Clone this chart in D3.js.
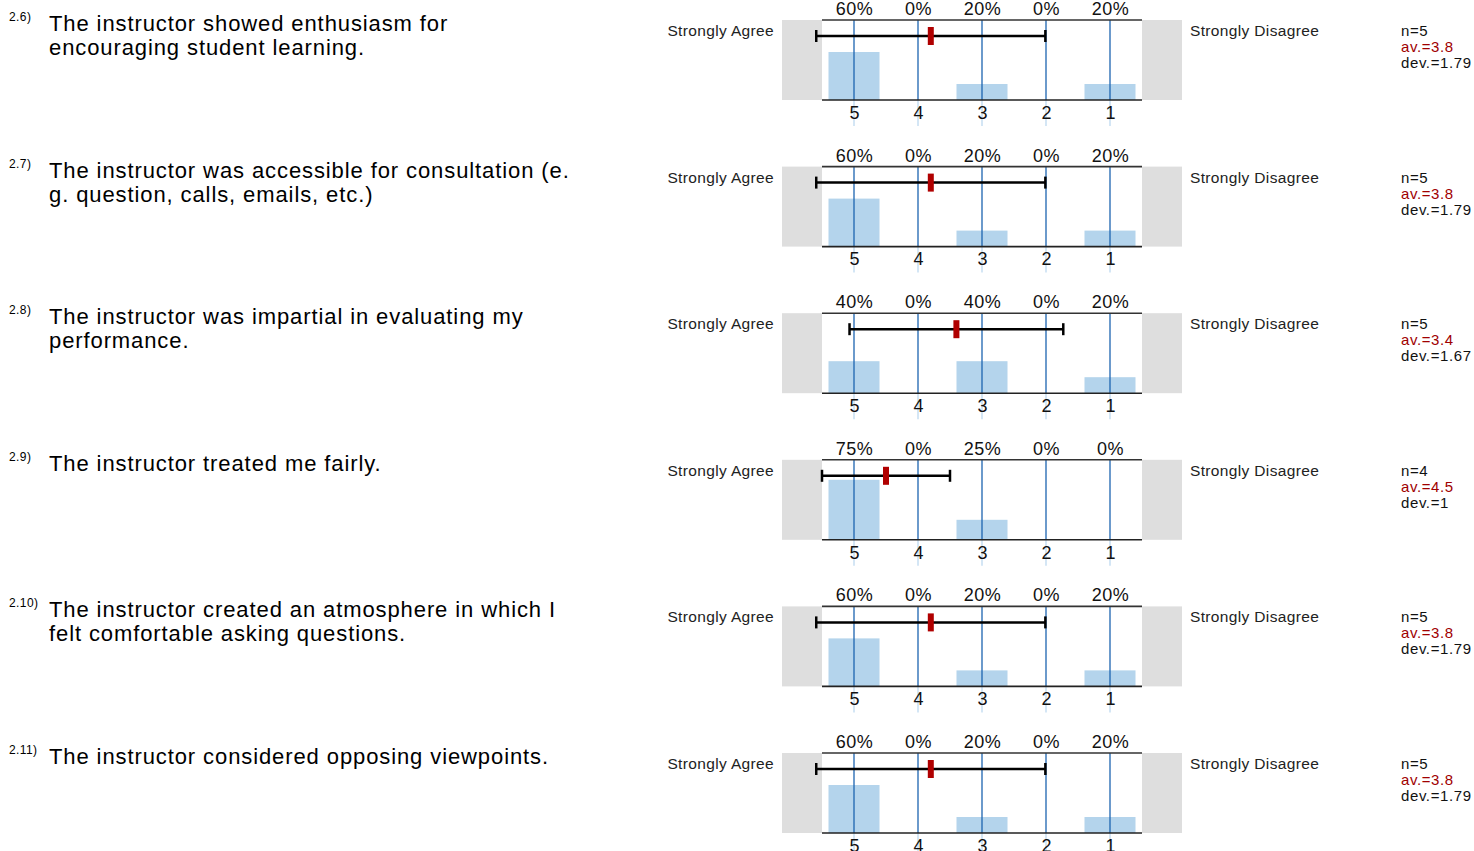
<!DOCTYPE html>
<html>
<head>
<meta charset="utf-8">
<script src="https://cdn.jsdelivr.net/npm/d3@7"></script>
<style>
  body { margin: 0; background: #fff; }
  svg text { font-family: "Liberation Sans", Arial, sans-serif; }
</style>
</head>
<body>
<div id="chart"></div>
<script>
// Survey data, one entry per question
var qNumbers = ["2.6)", "2.7)", "2.8)", "2.9)", "2.10)", "2.11)"];
var qTexts = [
    ["The instructor showed enthusiasm for", "encouraging student learning."],
    ["The instructor was accessible for consultation (e.", "g. question, calls, emails, etc.)"],
    ["The instructor was impartial in evaluating my", "performance."],
    ["The instructor treated me fairly."],
    ["The instructor created an atmosphere in which I", "felt comfortable asking questions."],
    ["The instructor considered opposing viewpoints."]
];
var scaleValues = [5, 4, 3, 2, 1];
var percents = [
    [60, 0, 20, 0, 20],
    [60, 0, 20, 0, 20],
    [40, 0, 40, 0, 20],
    [75, 0, 25, 0, 0],
    [60, 0, 20, 0, 20],
    [60, 0, 20, 0, 20]
];
var nValues = [5, 5, 5, 4, 5, 5];
var means = [3.8, 3.8, 3.4, 4.5, 3.8, 3.8];
var devs = [1.79, 1.79, 1.67, 1, 1.79, 1.79];

// Layout
var width = 1474;
var height = 851;
var rowStep = 146.6;
var plotTop = 20;
var plotH = 80;

var svg = d3.select("#chart")
    .append("svg")
    .attr("width", width)
    .attr("height", height);

// Scales shared by every row
var xScale = d3.scaleLinear().domain([5, 1]).range([854, 1110]);
var yScale = d3.scaleLinear().domain([0, 100]).range([plotH, 0]);
var barW = 51;

qNumbers.forEach(function(num, i) {
    var g = svg.append("g")
        .attr("transform", "translate(0," + (i * rowStep) + ")");

    // question number + text
    g.append("text")
        .attr("x", 9)
        .attr("y", 21)
        .attr("font-size", 12)
        .attr("letter-spacing", 0.4)
        .text(num);
    g.selectAll(".qline")
        .data(qTexts[i])
        .enter()
        .append("text")
        .attr("class", "qline")
        .attr("x", 49)
        .attr("y", function(d, j) { return 31 + j * 24; })
        .attr("font-size", 22)
        .attr("letter-spacing", 0.9)
        .text(function(d) { return d; });

    // side labels
    g.append("text")
        .attr("x", 774)
        .attr("y", 36)
        .attr("text-anchor", "end")
        .attr("font-size", 15.5)
        .attr("letter-spacing", 0.35)
        .attr("fill", "#222")
        .text("Strongly Agree");
    g.append("text")
        .attr("x", 1190)
        .attr("y", 36)
        .attr("font-size", 15.5)
        .attr("letter-spacing", 0.35)
        .attr("fill", "#222")
        .text("Strongly Disagree");

    // gray end boxes
    g.append("rect")
        .attr("x", 782).attr("y", plotTop)
        .attr("width", 40).attr("height", plotH)
        .attr("fill", "#dedede");
    g.append("rect")
        .attr("x", 1142).attr("y", plotTop)
        .attr("width", 40).attr("height", plotH)
        .attr("fill", "#dedede");

    var plot = g.append("g").attr("transform", "translate(0," + plotTop + ")");

    // bars
    plot.selectAll(".bar")
        .data(percents[i])
        .enter()
        .append("rect")
        .attr("class", "bar")
        .attr("x", function(d, j) { return xScale(scaleValues[j]) - barW / 2; })
        .attr("y", function(d) { return yScale(d); })
        .attr("width", barW)
        .attr("height", function(d) { return plotH - yScale(d); })
        .attr("fill", "#b4d4ec");

    // faint tick marks below the axis
    plot.selectAll(".faint")
        .data(scaleValues)
        .enter()
        .append("line")
        .attr("x1", function(d) { return xScale(d); })
        .attr("x2", function(d) { return xScale(d); })
        .attr("y1", plotH)
        .attr("y2", plotH + 26)
        .attr("stroke", "#c6def2")
        .attr("stroke-width", 1.5);

    // blue grid lines
    plot.selectAll(".grid")
        .data(scaleValues)
        .enter()
        .append("line")
        .attr("x1", function(d) { return xScale(d); })
        .attr("x2", function(d) { return xScale(d); })
        .attr("y1", 0)
        .attr("y2", plotH)
        .attr("stroke", "#1d64b0")
        .attr("stroke-width", 1.3);

    // top and bottom frame lines
    plot.append("line")
        .attr("x1", 822).attr("x2", 1142)
        .attr("y1", 0).attr("y2", 0)
        .attr("stroke", "#333").attr("stroke-width", 1.6);
    plot.append("line")
        .attr("x1", 822).attr("x2", 1142)
        .attr("y1", plotH).attr("y2", plotH)
        .attr("stroke", "#222").attr("stroke-width", 1.6);

    // top axis: percentages
    var pct = percents[i];
    var topAxis = d3.axisTop(xScale)
        .tickValues(scaleValues)
        .tickSize(0)
        .tickPadding(5)
        .tickFormat(function(d) { return pct[scaleValues.indexOf(d)] + "%"; });
    var ta = plot.append("g").call(topAxis);
    ta.select(".domain").remove();
    ta.selectAll("text")
        .attr("font-size", 18)
        .attr("letter-spacing", 0.5)
        .attr("fill", "#111")
        .style("font-family", "Liberation Sans, Arial, sans-serif");

    // bottom axis: scale values
    var bottomAxis = d3.axisBottom(xScale)
        .tickValues(scaleValues)
        .tickSize(0)
        .tickPadding(6)
        .tickFormat(d3.format("d"));
    var ba = plot.append("g")
        .attr("transform", "translate(0," + plotH + ")")
        .call(bottomAxis);
    ba.select(".domain").remove();
    ba.selectAll("text")
        .attr("font-size", 18)
        .attr("fill", "#111")
        .style("font-family", "Liberation Sans, Arial, sans-serif");

    // deviation bar with mean marker
    var ey = 16;
    var lo = xScale(means[i] + devs[i]);
    var hi = xScale(means[i] - devs[i]);
    plot.append("line")
        .attr("x1", lo).attr("x2", hi)
        .attr("y1", ey).attr("y2", ey)
        .attr("stroke", "#000").attr("stroke-width", 2.5);
    [lo, hi].forEach(function(x) {
        plot.append("line")
            .attr("x1", x).attr("x2", x)
            .attr("y1", ey - 6).attr("y2", ey + 6)
            .attr("stroke", "#000").attr("stroke-width", 2.5);
    });
    plot.append("rect")
        .attr("x", xScale(means[i]) - 3)
        .attr("y", ey - 9)
        .attr("width", 6)
        .attr("height", 18)
        .attr("fill", "#b00000");

    // stats
    var stats = [
        { t: "n=" + nValues[i], c: "#111" },
        { t: "av.=" + means[i], c: "#a00000" },
        { t: "dev.=" + devs[i], c: "#111" }
    ];
    g.selectAll(".stat")
        .data(stats)
        .enter()
        .append("text")
        .attr("class", "stat")
        .attr("x", 1401)
        .attr("y", function(d, j) { return 36 + j * 16; })
        .attr("font-size", 15)
        .attr("letter-spacing", 0.6)
        .attr("fill", function(d) { return d.c; })
        .text(function(d) { return d.t; });
});
</script>
</body>
</html>
